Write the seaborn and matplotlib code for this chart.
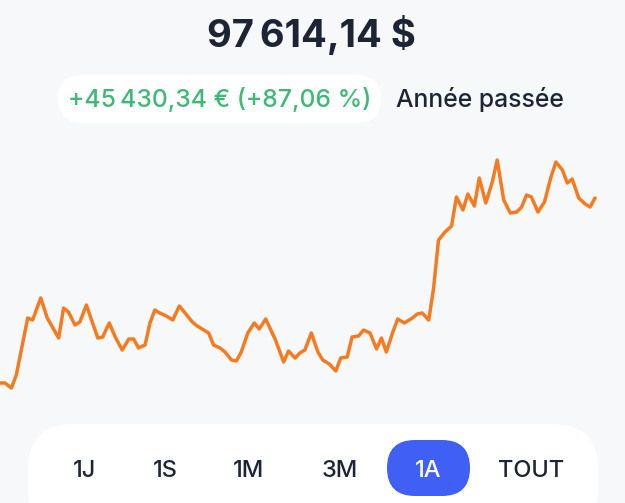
import matplotlib
matplotlib.use("Agg")
import matplotlib.pyplot as plt
from matplotlib.patches import FancyBboxPatch
import pandas as pd
import seaborn as sns

# Données (jour depuis le début, prix en $)
jours = [0, 3, 7, 10, 17, 20, 25, 29, 36, 39, 42, 46, 49, 53, 60, 63, 67, 71,
         75, 79, 82, 85, 89, 92, 95, 98, 102, 106, 110, 113, 118, 121, 128, 131,
         135, 138, 142, 145, 148, 152, 156, 159, 163, 169, 174, 177, 181, 184,
         187, 191, 195, 198, 202, 206, 209, 213, 216, 220, 223, 227, 231, 234,
         237, 241, 244, 248, 253, 256, 259, 263, 266, 269, 273, 277, 280, 284,
         287, 291, 294, 298, 302, 305, 309, 313, 317, 320, 323, 326, 330, 334,
         338, 341, 345, 348, 351, 355, 359, 362, 365]
prix = [52184, 52178, 50950, 54143, 68142, 67651, 73054, 68142, 63230, 70598,
        69616, 66423, 67160, 71335, 63230, 63476, 66914, 63230, 60283, 62984,
        62984, 60774, 61511, 66914, 70107, 69370, 68633, 67651, 71089, 69616,
        67160, 66177, 64458, 61511, 60774, 59792, 57827, 57581, 59792, 64458,
        66914, 65440, 67896, 62739, 57336, 60037, 58318, 59546, 60283, 64458,
        59792, 57827, 56844, 55125, 58318, 58564, 63476, 63721, 65195, 64458,
        60528, 63230, 59792, 64704, 67896, 66914, 68142, 69124, 69370, 67651,
        75510, 87299, 89264, 90737, 97860, 94667, 98596, 95649, 102526, 96386,
        101544, 106947, 97123, 93930, 94176, 95404, 98351, 97860, 94176, 96632,
        102772, 106456, 104491, 101298, 102280, 97614.14, 96140, 95404, 97614.14]

valeur = "97\u202f614,14 $"
variation = "+45\u202f430,34 € (+87,06 %)"
periode = "Année passée"
boutons = ["1J", "1S", "1M", "3M", "1A", "TOUT"]
actif = "1A"

df = pd.DataFrame({"jour": jours, "prix": prix})

sns.set_theme(style="white")
plt.rcParams["font.family"] = ["Inter", "DejaVu Sans"]

fond = "#f7f8fa"
sombre = "#1d2433"
vert = "#3fb878"
orange = "#f47b20"
bleu = "#3f5ff5"

fig = plt.figure(figsize=(6.25, 5.03), dpi=100, facecolor=fond)

# calque en pixels pour les textes et les pastilles
ui = fig.add_axes([0, 0, 1, 1])
ui.set_xlim(0, 625)
ui.set_ylim(503, 0)
ui.axis("off")

ui.text(311, 47, valeur, ha="center", va="baseline", fontsize=27.5,
        fontweight="bold", color=sombre)

ui.add_patch(FancyBboxPatch((58, 75), 323, 48,
                            boxstyle="round,pad=0,rounding_size=24",
                            fc="white", ec="none"))
ui.text(220, 107, variation, ha="center", va="baseline", fontsize=17.8,
        fontweight="medium", color=vert)
ui.text(396, 107, periode, ha="left", va="baseline", fontsize=17.8,
        fontweight="medium", color=sombre)

ui.add_patch(FancyBboxPatch((28, 424), 570, 110,
                            boxstyle="round,pad=0,rounding_size=45",
                            fc="white", ec="none"))
centres = [85, 165, 249, 340, 428, 531]
for lab, cx in zip(boutons, centres):
    col = sombre
    if lab == actif:
        ui.add_patch(FancyBboxPatch((387, 440), 83, 56,
                                    boxstyle="round,pad=0,rounding_size=28",
                                    fc=bleu, ec="none"))
        col = "white"
    ui.text(cx, 477, lab, ha="center", va="baseline", fontsize=17,
            fontweight="medium", color=col)

# courbe du prix
ax = fig.add_axes([0, 1 - 410 / 503, 1, 270 / 503])
ax.patch.set_alpha(0)
sns.lineplot(data=df, x="jour", y="prix", ax=ax, color=orange, linewidth=2.5)
ax.set_xlim(0, 383.4)
ax.set_ylim(45547, 111859)
ax.axis("off")

fig.savefig("out.png", dpi=100, facecolor=fond)
